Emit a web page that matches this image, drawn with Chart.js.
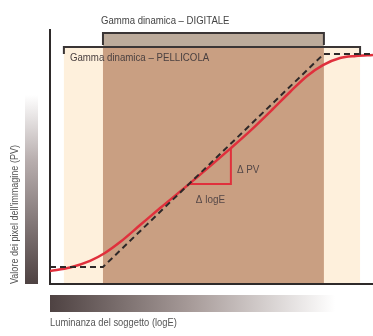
<!DOCTYPE html>
<html>
    <head>
        <meta name="viewport" content="width=device-width, initial-scale=1.0">
        <title>Gamma dinamica</title>
        <script src="https://cdn.jsdelivr.net/npm/chart.js/dist/chart.umd.min.js"></script>
        <style>
            html, body { margin: 0; padding: 0; background: #fff; }
            .chartBox { width: 373px; height: 336px; }
        </style>
    </head>
    <body>
        <div class="chartBox">
            <canvas id="myChart"></canvas>
        </div>

    <script>
    // x = luminanza del soggetto (logE), y = valore dei pixel (PV), both 0..10
    const pellicolaRange = [0.43, 9.6];
    const digitaleRange = [1.64, 8.48];

    // ideal (digital) response: clipped straight line
    const digitaleX = [0, 1.64, 8.48, 10];
    const digitaleY = [0.67, 0.67, 9.06, 9.06];

    // film response: S curve
    const pellicolaX = [0, 0.62, 1.24, 1.7, 2.17, 2.79, 3.41, 4.33, 5.6, 6.19, 6.9, 7.43, 7.96, 8.45, 8.98, 9.47, 10];
    const pellicolaY = [0.51, 0.65, 0.91, 1.22, 1.65, 2.32, 2.99, 3.96, 5.35, 6.02, 6.89, 7.56, 8.19, 8.62, 8.9, 8.98, 9.02];

    // slope triangle
    const triangleX = [4.33, 5.6, 5.6];
    const triangleY = [3.94, 3.94, 5.35];

    const labelDigitale = 'Gamma dinamica \u2013 DIGITALE';
    const labelPellicola = 'Gamma dinamica \u2013 PELLICOLA';
    const labelY = "Valore dei pixel dell'immagine (PV)";
    const labelX = 'Luminanza del soggetto (logE)';

    function toPoints(xs, ys) {
        return xs.map((x, i) => ({ x: x, y: ys[i] }));
    }

    // condensed text helper
    function drawText(ctx, text, x, y, size, color, squeeze) {
        ctx.save();
        ctx.translate(x, y);
        ctx.scale(squeeze, 1);
        ctx.font = size + 'px "Liberation Sans", Arial, sans-serif';
        ctx.fillStyle = color;
        ctx.textBaseline = 'middle';
        ctx.fillText(text, 0, 0);
        ctx.restore();
    }

    const decorPlugin = {
        id: 'decor',
        beforeDraw(chart) {
            const ctx = chart.ctx;
            const xs = chart.scales.x;
            const area = chart.chartArea;
            const bottom = area.bottom - 1;

            // film band
            const p0 = xs.getPixelForValue(pellicolaRange[0]);
            const p1 = xs.getPixelForValue(pellicolaRange[1]);
            const pTop = area.top + 17;
            ctx.fillStyle = '#fef0dc';
            ctx.fillRect(p0, pTop, p1 - p0, bottom - pTop);

            // digital band
            const d0 = xs.getPixelForValue(digitaleRange[0]);
            const d1 = xs.getPixelForValue(digitaleRange[1]);
            const dTop = area.top + 2;
            ctx.fillStyle = '#bcab9b';
            ctx.fillRect(d0, dTop, d1 - d0, pTop - dTop);
            ctx.fillStyle = '#c99f82';
            ctx.fillRect(d0, pTop, d1 - d0, bottom - pTop);

            // vertical gradient bar (PV)
            let g = ctx.createLinearGradient(0, 95, 0, area.bottom);
            g.addColorStop(0, 'rgba(255,255,255,1)');
            g.addColorStop(0.35, '#b7adad');
            g.addColorStop(1, '#4e4242');
            ctx.fillStyle = g;
            ctx.fillRect(25, 95, 13, area.bottom - 95);

            // horizontal gradient bar (logE)
            g = ctx.createLinearGradient(area.left, 0, area.left + 285, 0);
            g.addColorStop(0, '#4e4242');
            g.addColorStop(0.5, '#a89c9a');
            g.addColorStop(1, 'rgba(255,255,255,1)');
            ctx.fillStyle = g;
            ctx.fillRect(area.left, area.bottom + 11, 285, 17);
        },
        afterDraw(chart) {
            const ctx = chart.ctx;
            const xs = chart.scales.x, ys = chart.scales.y;
            const area = chart.chartArea;

            const d0 = xs.getPixelForValue(digitaleRange[0]);
            const d1 = xs.getPixelForValue(digitaleRange[1]);
            const p0 = xs.getPixelForValue(pellicolaRange[0]);
            const p1 = xs.getPixelForValue(pellicolaRange[1]);

            // brackets
            ctx.save();
            ctx.strokeStyle = '#3a3535';
            ctx.lineWidth = 2;
            ctx.beginPath();
            ctx.moveTo(d0, area.top + 15);
            ctx.lineTo(d0, area.top + 3);
            ctx.lineTo(d1, area.top + 3);
            ctx.lineTo(d1, area.top + 15);
            ctx.moveTo(p0, area.top + 24);
            ctx.lineTo(p0, area.top + 17);
            ctx.lineTo(p1, area.top + 17);
            ctx.lineTo(p1, area.top + 25);
            ctx.stroke();
            ctx.restore();

            drawText(ctx, labelDigitale, d0 - 2, area.top - 9, 11, '#444', 0.87);
            drawText(ctx, labelPellicola, p0 + 6, area.top + 28, 11, '#4a4040', 0.88);

            // triangle labels
            drawText(ctx, '\u0394 PV', xs.getPixelForValue(triangleX[1]) + 6, ys.getPixelForValue(4.5), 11, '#554848', 0.9);
            drawText(ctx, '\u0394 logE', xs.getPixelForValue(triangleX[0]) + 6, ys.getPixelForValue(3.3), 11, '#554848', 0.9);

            // axis titles
            ctx.save();
            ctx.translate(15, area.bottom);
            ctx.rotate(-Math.PI / 2);
            drawText(ctx, labelY, 0, 0, 11, '#555', 0.82);
            ctx.restore();
            drawText(ctx, labelX, area.left, area.bottom + 39, 11, '#555', 0.85);
        }
    };

    const ctx = document.getElementById('myChart').getContext('2d');
    const myChart = new Chart(ctx, {
        type: 'scatter',
        data: {
            datasets: [{
                label: 'DIGITALE',
                data: toPoints(digitaleX, digitaleY),
                showLine: true,
                borderColor: '#2e2828',
                borderWidth: 2,
                borderDash: [6, 4],
                pointRadius: 0,
                tension: 0
            }, {
                label: 'PELLICOLA',
                data: toPoints(pellicolaX, pellicolaY),
                showLine: true,
                borderColor: '#e0303c',
                borderWidth: 2.5,
                pointRadius: 0,
                cubicInterpolationMode: 'monotone'
            }, {
                label: 'triangolo',
                data: toPoints(triangleX, triangleY),
                showLine: true,
                borderColor: '#e0303c',
                borderWidth: 2,
                pointRadius: 0,
                tension: 0
            }]
        },
        options: {
            responsive: true,
            maintainAspectRatio: false,
            animation: false,
            layout: { padding: { left: 50, right: 0, top: 30, bottom: 52 } },
            plugins: {
                legend: { display: false },
                tooltip: { enabled: false }
            },
            scales: {
                x: {
                    type: 'linear',
                    min: 0,
                    max: 10,
                    ticks: { display: false },
                    grid: { display: false, drawTicks: false },
                    border: { display: true, color: '#2e2a2a', width: 2 }
                },
                y: {
                    type: 'linear',
                    min: 0,
                    max: 10,
                    ticks: { display: false },
                    grid: { display: false, drawTicks: false },
                    border: { display: true, color: '#2e2a2a', width: 2 }
                }
            }
        },
        plugins: [decorPlugin]
    });
    </script>
    </body>
</html>
